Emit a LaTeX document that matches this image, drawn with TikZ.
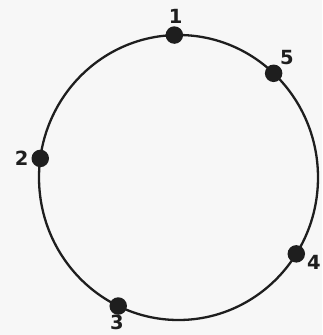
\documentclass[tikz,border=0pt]{standalone}
\usepackage{fontspec}
\setmainfont{DejaVu Sans}
\usetikzlibrary{calc}
\definecolor{paper}{HTML}{F7F7F7}
\definecolor{ink}{HTML}{1E1E1E}
\begin{document}
\begin{tikzpicture}[x=1pt,y=-1pt,
  ring/.style={draw=ink,line width=2.3pt},
  dot/.style={circle,fill=ink,inner sep=0pt,minimum size=17.5pt},
  lab/.style={inner sep=0pt,text=ink,font=\fontsize{19.5}{19.5}\selectfont\bfseries}]
\fill[paper] (0,0) rectangle (322,335);
\useasboundingbox (0,0) rectangle (322,335);
\coordinate (c) at (178.5,177.5);
\draw[ring] (c) ellipse [x radius=139.5, y radius=142.5];
\node[dot] (p1) at ($(c)+(-91.7:139.5 and 142.5)$) {};
\node[dot] (p2) at ($(c)+(-172.3:139.5 and 142.5)$) {};
\node[dot] (p3) at ($(c)+(115.6:139.5 and 142.5)$) {};
\node[dot] (p4) at ($(c)+(32.4:139.5 and 142.5)$) {};
\node[dot] (p5) at ($(c)+(-47:139.5 and 142.5)$) {};
\node[lab] (l1) at (175.7,16.7) {1};
\node[lab] (l2) at (21.7,158.3) {2};
\node[lab] (l3) at (117,322) {3};
\node[lab] (l4) at (314,262) {4};
\node[lab] (l5) at (287,58) {5};
\end{tikzpicture}
\end{document}
